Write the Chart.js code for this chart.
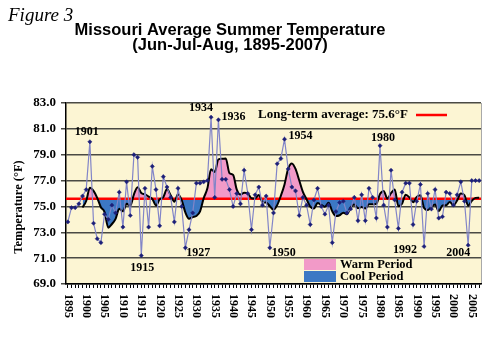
<!DOCTYPE html>
<html>
<head>
<meta charset="utf-8">
<script src="https://cdn.jsdelivr.net/npm/chart.js@4"></script>
<style>
  html, body { margin: 0; padding: 0; background: #fff; }
  #wrap { width: 500px; height: 344px; }
</style>
</head>
<body>
<div id="wrap"><canvas id="temp_chart" width="500" height="344"></canvas></div>
<script>
// Missouri summer (JJA) mean temperature, deg F
var years = [];
for (let y = 1895; y <= 2007; y++) years.push(y);

var temps = [
    73.8, 74.9, 74.9, 75.2, 75.8,                                   // 1895-1899
    76.3, 80.0, 73.7, 72.5, 72.2, 74.4, 74.0, 75.1, 74.5, 76.1,     // 1900s
    73.4, 76.9, 74.3, 79.0, 78.8, 71.2, 76.4, 73.4, 78.1, 76.3,     // 1910s
    73.5, 77.3, 76.5, 75.7, 73.8, 76.4, 75.0, 71.8, 73.2, 74.5,     // 1920s
    76.8, 76.8, 76.9, 77.0, 81.9, 75.7, 81.7, 77.1, 77.1, 76.3,     // 1930s
    75.0, 76.0, 75.2, 77.8, 76.0, 73.2, 75.9, 76.5, 75.1, 75.8,     // 1940s
    71.8, 74.5, 78.3, 78.7, 80.2, 77.9, 76.5, 76.2, 74.3, 75.7,     // 1950s
    75.1, 73.6, 75.5, 76.4, 75.0, 74.4, 75.1, 72.2, 74.6, 75.3,     // 1960s
    75.4, 74.5, 74.8, 75.7, 73.9, 75.9, 73.9, 76.4, 75.7, 74.1,     // 1970s
    79.7, 75.1, 73.4, 77.8, 75.5, 73.3, 76.1, 76.8, 76.8, 73.6,     // 1980s
    75.4, 76.7, 71.9, 76.0, 74.8, 76.3, 74.1, 74.2, 76.1, 76.0,     // 1990s
    75.1, 75.9, 76.9, 75.4, 72.0, 77.0, 77.0, 77.0                  // 2000s
];

var longTermAverage = 75.6;
var yTicks = [69, 71, 73, 75, 77, 79, 81, 83];
var calloutYears = [1901, 1915, 1927, 1934, 1936, 1950, 1954, 1980, 1992, 2004];

// 5-year trailing moving average
var trend = temps.map(function (t, i) {
    if (i < 4) return null;
    let s = 0;
    for (let k = i - 4; k <= i; k++) s += temps[k];
    return s / 5;
});

// where each year callout sits relative to its point
var calloutOffset = {
    1901: [-3, -10], 1915: [1, 12], 1927: [13, 5], 1934: [-10, -9], 1936: [15, -3],
    1950: [14, 5], 1954: [16, -3], 1980: [3, -8], 1992: [-19, 3], 2004: [-10, 8]
};

const SERIF = '"Liberation Serif", "Times New Roman", serif';
const SANS = '"Liberation Sans", Arial, sans-serif';

const plotBack = {
    id: 'plotBack',
    beforeDraw(chart) {
        const { ctx, chartArea: a } = chart;
        ctx.save();
        ctx.fillStyle = '#fcf5d3';
        ctx.fillRect(a.left, a.top, a.right - a.left, a.bottom - a.top);
        ctx.strokeStyle = '#a9a9a9';
        ctx.lineWidth = 1;
        ctx.beginPath();
        ctx.moveTo(a.right + 0.5, a.top);
        ctx.lineTo(a.right + 0.5, a.bottom);
        ctx.stroke();
        ctx.restore();
    }
};

// red long-term average line, over the fill but under the smoothed curve
const averageLine = {
    id: 'averageLine',
    beforeDatasetDraw(chart, args) {
        if (args.index !== 1) return;
        const { ctx, chartArea: a, scales } = chart;
        const y = scales.y.getPixelForValue(longTermAverage);
        ctx.save();
        ctx.strokeStyle = '#ff0000';
        ctx.lineWidth = 2.5;
        ctx.beginPath();
        ctx.moveTo(a.left, y);
        ctx.lineTo(a.right, y);
        ctx.stroke();
        ctx.restore();
    }
};

const texts = {
    id: 'texts',
    afterDraw(chart) {
        const { ctx, scales } = chart;
        const xs = scales.x, ys = scales.y;
        ctx.save();
        ctx.fillStyle = '#000';

        ctx.font = 'italic 19px ' + SERIF;
        ctx.textAlign = 'left';
        ctx.textBaseline = 'alphabetic';
        ctx.fillText('Figure 3', 8, 21);

        ctx.font = 'bold 16.5px ' + SANS;
        ctx.textAlign = 'center';
        ctx.textBaseline = 'middle';
        ctx.fillText('Missouri Average Summer Temperature', 230, 30);
        ctx.fillText('(Jun-Jul-Aug, 1895-2007)', 230, 45);

        // y title
        ctx.save();
        ctx.translate(19, 207);
        ctx.rotate(-Math.PI / 2);
        ctx.font = 'bold 12.5px ' + SERIF;
        ctx.fillText('Temperature (\u00B0F)', 0, 0);
        ctx.restore();

        // year labels every 5 years, turned to read downwards
        ctx.font = 'bold 12px ' + SERIF;
        ctx.textAlign = 'left';
        years.forEach(function (yr, i) {
            if (yr % 5 !== 0) return;
            ctx.save();
            ctx.translate(xs.getPixelForValue(i), 294);
            ctx.rotate(Math.PI / 2);
            ctx.fillText(String(yr), 0, 0);
            ctx.restore();
        });

        // callouts for the extreme years
        ctx.font = 'bold 12px ' + SERIF;
        ctx.textAlign = 'center';
        calloutYears.forEach(function (yr) {
            const i = years.indexOf(yr);
            const off = calloutOffset[yr];
            ctx.fillText(String(yr), xs.getPixelForValue(i) + off[0], ys.getPixelForValue(temps[i]) + off[1]);
        });

        // legend
        ctx.font = 'bold 13px ' + SERIF;
        ctx.textAlign = 'left';
        ctx.fillText('Long-term average: ' + longTermAverage.toFixed(1) + '\u00B0F', 258, 115);
        ctx.strokeStyle = '#ff0000';
        ctx.lineWidth = 2.5;
        ctx.beginPath();
        ctx.moveTo(416, 115);
        ctx.lineTo(447, 115);
        ctx.stroke();

        ctx.fillStyle = '#f29ac8';
        ctx.fillRect(304, 259, 32, 11);
        ctx.fillStyle = '#3c78c4';
        ctx.fillRect(304, 271, 32, 11);
        ctx.fillStyle = '#000';
        ctx.font = 'bold 12.5px ' + SERIF;
        ctx.fillText('Warm Period', 340, 265);
        ctx.fillText('Cool Period', 340, 277);
        ctx.restore();
    }
};

let tempChart = new Chart(document.getElementById('temp_chart'), {
    type: 'line',
    data: {
        labels: years,
        datasets: [
            {
                label: 'Summer temperature',
                data: temps,
                borderColor: '#8285c8',
                borderWidth: 1.2,
                pointStyle: 'rectRot',
                pointRadius: 2.1,
                pointBackgroundColor: '#1c1f78',
                pointBorderColor: '#1c1f78',
                pointBorderWidth: 0.5,
                tension: 0,
                fill: false,
                order: 1
            },
            {
                label: '5-year average',
                data: trend,
                borderColor: '#000',
                borderWidth: 2,
                pointRadius: 0,
                cubicInterpolationMode: 'monotone',
                fill: { target: { value: longTermAverage }, above: '#f29ac8', below: '#3c78c4' },
                order: 2
            }
        ]
    },
    options: {
        responsive: false,
        animation: false,
        devicePixelRatio: 1,
        layout: { padding: { top: 103, right: 19, bottom: 0, left: 0 } },
        plugins: {
            legend: { display: false },
            title: { display: false },
            tooltip: { enabled: false }
        },
        scales: {
            x: {
                type: 'category',
                offset: true,
                grid: { drawOnChartArea: false, drawTicks: true, tickLength: 4, color: '#000', lineWidth: 1 },
                border: { display: true, color: '#000', width: 1.5 },
                ticks: { display: false, autoSkip: false },
                afterFit(scale) { scale.height = 60; scale.paddingLeft = 0; scale.paddingRight = 0; }
            },
            y: {
                type: 'linear',
                min: 69,
                max: 83,
                afterBuildTicks(scale) { scale.ticks = yTicks.map(v => ({ value: v })); },
                grid: { color: '#4a4a44', lineWidth: 1.5, tickLength: 5 },
                border: { display: true, color: '#000', width: 1.5 },
                ticks: {
                    color: '#000',
                    padding: 5,
                    font: { family: SERIF, weight: 'bold', size: 13 },
                    callback: v => Number(v).toFixed(1)
                },
                afterFit(scale) { scale.width = 66; scale.paddingTop = 0; scale.paddingBottom = 0; }
            }
        }
    },
    plugins: [plotBack, averageLine, texts]
});
</script>
</body>
</html>
